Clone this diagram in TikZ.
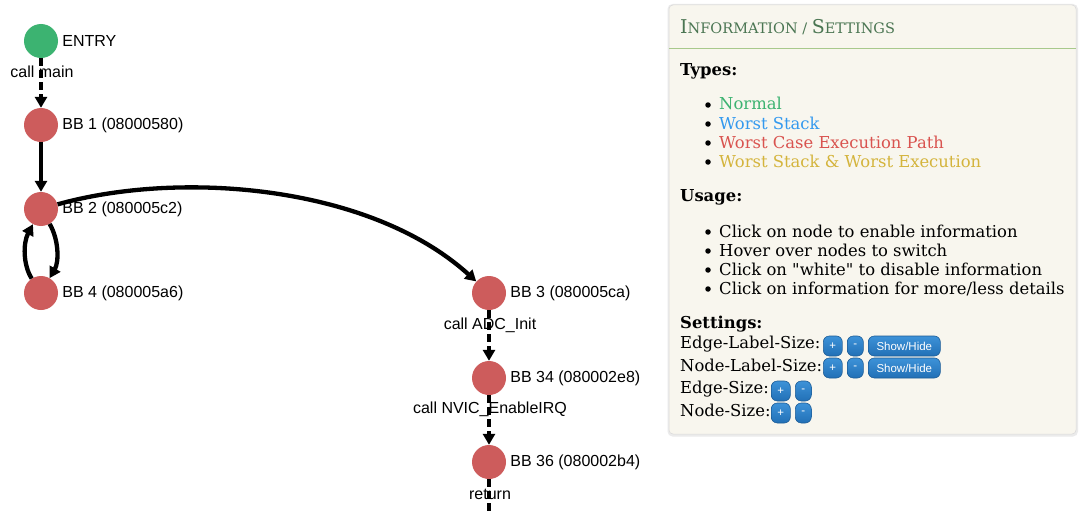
\documentclass[tikz,border=0pt]{standalone}
\usepackage{fontspec}
\setmainfont{DejaVu Serif}[Ligatures=TeXOff]
\newfontfamily\gsans{Liberation Sans}
\usetikzlibrary{arrows.meta}
\definecolor{nodegreen}{HTML}{3CB371}
\definecolor{nodered}{HTML}{CD5C5C}
\definecolor{panelbg}{HTML}{F8F6EE}
\definecolor{titlegreen}{HTML}{4A7552}
\definecolor{rulegreen}{HTML}{A8C98C}
\definecolor{tgreen}{HTML}{3CB371}
\definecolor{tblue}{HTML}{3399EE}
\definecolor{tred}{HTML}{D9534F}
\definecolor{tyellow}{HTML}{D4B43C}
\definecolor{btntop}{HTML}{3D92D8}
\definecolor{btnbot}{HTML}{2270B6}
\definecolor{btnborder}{HTML}{1D5C96}
\tikzset{
  bb/.style={circle, minimum size=34pt, inner sep=0pt, fill=nodered,
    label={[nlbl]east:#1}},
  entrynode/.style={circle, minimum size=34pt, inner sep=0pt, fill=nodegreen,
    label={[nlbl]east:#1}},
  nlbl/.style={font=\gsans\fontsize{16}{16}\selectfont, inner sep=0pt, label distance=4pt},
  elbl/.style={font=\gsans\fontsize{16}{16}\selectfont, inner sep=0pt},
  edge/.style={line width=4.3pt, -{Triangle[width=12pt,length=11pt]}},
  dedge/.style={edge, dash pattern=on 8pt off 4pt},
  ptxt/.style={anchor=base west, inner sep=0pt, font=\fontsize{16.4}{16.4}\selectfont},
  phead/.style={ptxt, font=\fontsize{16.4}{16.4}\selectfont\bfseries},
  bul/.style={circle, fill=black, minimum size=5.5pt, inner sep=0pt},
  btn/.style={rounded corners=6pt, draw=btnborder, line width=0.6pt, top color=btntop,
    bottom color=btnbot, text=white, font=\gsans\fontsize{11.5}{11.5}\selectfont,
    minimum height=20pt, inner sep=0pt, anchor=west},
}
\begin{document}
\begin{tikzpicture}[x=1pt, y=-1pt]
\useasboundingbox[fill=white] (0,0) rectangle (1082,511);
% graph
\node[entrynode=ENTRY] (entry) at (41,41) {};
\node[bb={BB 1 (08000580)}] (b1) at (41,125) {};
\node[bb={BB 2 (080005c2)}] (b2) at (41,209) {};
\node[bb={BB 4 (080005a6)}] (b4) at (41,293) {};
\node[bb={BB 3 (080005ca)}] (b3) at (489,293) {};
\node[bb={BB 34 (080002e8)}] (b34) at (489,378) {};
\node[bb={BB 36 (080002b4)}] (b36) at (489,462) {};
\coordinate (out) at (489,515);
\draw[dedge] (entry) -- (b1);
\draw[edge] (b1) -- (b2);
\draw[edge] (b2) .. controls (180,170) and (370,185) .. (b3);
\draw[edge] (b2) .. controls (59,240) and (59,262) .. (b4);
\draw[edge] (b4) .. controls (23,265) and (23,243) .. (b2);
\draw[dedge] (b3) -- (b34);
\draw[dedge] (b34) -- (b36);
\draw[line width=4.3pt, dash pattern=on 8pt off 4pt] (b36) -- (out);
\node[elbl] (l1) at (42,72) {call main};
\node[elbl] (l2) at (490,325) {call ADC\_Init};
\node[elbl] (l3) at (490,409) {call NVIC\_EnableIRQ};
\node[elbl] (l4) at (490,494) {return};
% panel
\fill[black!8, rounded corners=5pt] (667.5,4) rectangle (1078,436.5);
\filldraw[fill=panelbg, draw=black!15, line width=0.5pt, rounded corners=4pt] (669,5) rectangle (1076,434);
\node[anchor=base west, inner sep=0pt, text=titlegreen] (title) at (680,34)
  {{\fontsize{19}{19}\selectfont I}{\fontsize{14.5}{14.5}\selectfont NFORMATION / }{\fontsize{19}{19}\selectfont S}{\fontsize{14.5}{14.5}\selectfont ETTINGS}};
\draw[rulegreen, line width=1pt] (669,49) -- (1076,49);
\node[phead] (types) at (680,75) {Types:};
\node[bul] (tb1) at (708,105) {};
\node[ptxt, text=tgreen] (tt1) at (719,110) {Normal};
\node[bul] (tb2) at (708,124) {};
\node[ptxt, text=tblue] (tt2) at (719,129) {Worst Stack};
\node[bul] (tb3) at (708,143) {};
\node[ptxt, text=tred] (tt3) at (719,148) {Worst Case Execution Path};
\node[bul] (tb4) at (708,162) {};
\node[ptxt, text=tyellow] (tt4) at (719,167) {Worst Stack \& Worst Execution};
\node[phead] (usage) at (680,201) {Usage:};
\node[bul] (ub1) at (708,232) {};
\node[ptxt] (ut1) at (719,237) {Click on node to enable information};
\node[bul] (ub2) at (708,251) {};
\node[ptxt] (ut2) at (719,256) {Hover over nodes to switch};
\node[bul] (ub3) at (708,270) {};
\node[ptxt] (ut3) at (719,275) {Click on "white" to disable information};
\node[bul] (ub4) at (708,289) {};
\node[ptxt] (ut4) at (719,294) {Click on information for more/less details};
\node[phead] (settings) at (680,328) {Settings:};
\node[ptxt] (s1) at (680,348) {Edge-Label-Size:};
\node[ptxt] (s2) at (680,371) {Node-Label-Size:};
\node[ptxt] (s3) at (680,393) {Edge-Size:};
\node[ptxt] (s4) at (680,416) {Node-Size:};
\node[btn, minimum width=19pt] (b1p) at (823,346) {+};
\node[btn, minimum width=16pt] (b1m) at (847,346) {-};
\node[btn, minimum width=72pt] (b1s) at (868,346) {Show/Hide};
\node[btn, minimum width=19pt] (b2p) at (823,368) {+};
\node[btn, minimum width=16pt] (b2m) at (847,368) {-};
\node[btn, minimum width=72pt] (b2s) at (868,368) {Show/Hide};
\node[btn, minimum width=19pt] (b3p) at (771,391) {+};
\node[btn, minimum width=16pt] (b3m) at (795,391) {-};
\node[btn, minimum width=19pt] (b4p) at (771,413) {+};
\node[btn, minimum width=16pt] (b4m) at (795,413) {-};
\end{tikzpicture}
\end{document}
